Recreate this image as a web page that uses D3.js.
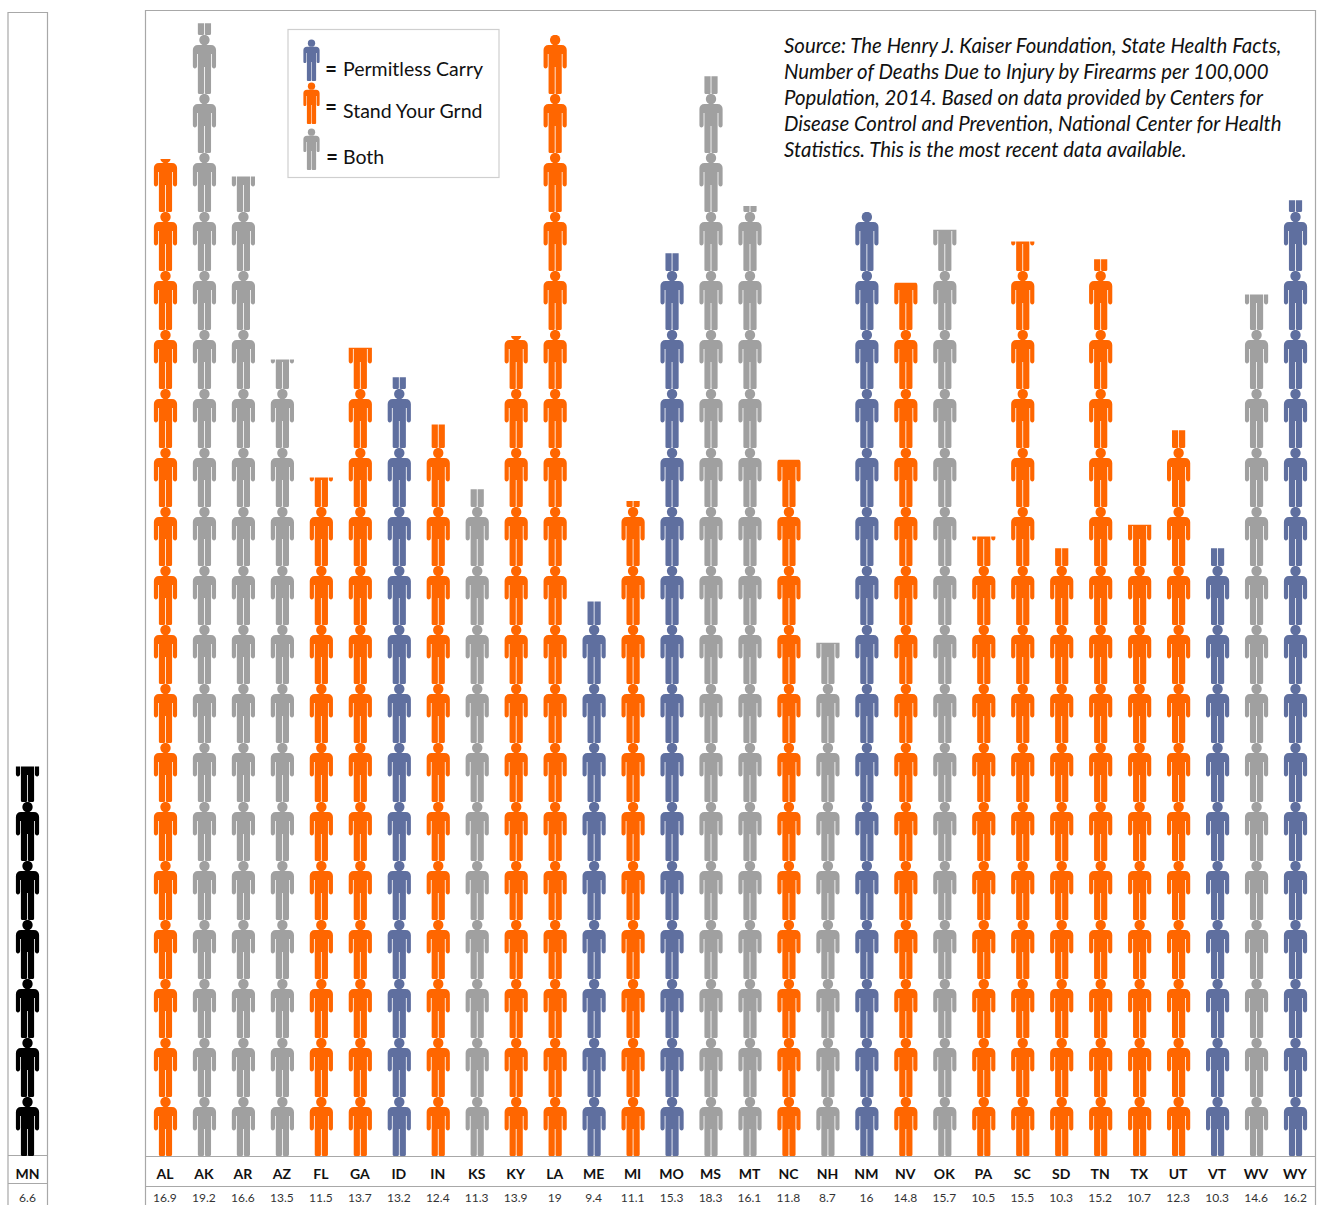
<!DOCTYPE html>
<html>
<head>
<meta charset="utf-8">
<script src="https://cdn.jsdelivr.net/npm/d3@7"></script>
<style>
html, body { margin: 0; padding: 0; background: #fff; overflow: hidden; }
svg { display: block; }
text { font-family: Lato, "Open Sans", sans-serif; fill: #111; }
</style>
</head>
<body>
<div id="chart"></div>
<script>
var states = ["AL","AK","AR","AZ","FL","GA","ID","IN","KS","KY","LA","ME","MI","MO","MS","MT","NC","NH","NM","NV","OK","PA","SC","SD","TN","TX","UT","VT","WV","WY"]
var rates = [16.9,19.2,16.6,13.5,11.5,13.7,13.2,12.4,11.3,13.9,19,9.4,11.1,15.3,18.3,16.1,11.8,8.7,16,14.8,15.7,10.5,15.5,10.3,15.2,10.7,12.3,10.3,14.6,16.2]
var laws = ["syg","both","both","both","syg","syg","permit","syg","both","syg","syg","permit","syg","permit","both","both","syg","both","permit","syg","both","syg","syg","syg","syg","syg","syg","permit","both","permit"]
var refState = ["MN"]
var refRate = [6.6]
var legendKeys = ["permit","syg","both"]
var legendLabels = ["Permitless Carry","Stand Your Grnd","Both"]
var sourceLines = [
	"Source: The Henry J. Kaiser Foundation, State Health Facts,",
	"Number of Deaths Due to Injury by Firearms per 100,000",
	"Population, 2014. Based on data provided by Centers for",
	"Disease Control and Prevention, National Center for Health",
	"Statistics. This is the most recent data available."
]

var width = 1322, height = 1205, base = 1156, unit = 59

var colour = d3.scaleOrdinal()
	.domain(["permit","syg","both","ref"])
	.range(["#5f6f9f","#ff6600","#a0a0a0","#000000"])

var x = d3.scaleBand().domain(states).range([146, 1315])
var xRef = d3.scaleBand().domain(refState).range([8, 47])
var y = d3.scaleLinear().domain([0, 1]).range([base, base - unit])

var svg = d3.select("#chart").append("svg")
	.attr("width", width)
	.attr("height", height)

// one person, 59 tall, feet at 0, centred on x = 0
var person = "M-6.5,-49 H6.5 C9.7,-49 11.6,-47 11.6,-44 V-28 C11.6,-26.4 10.8,-25.6 9.6,-25.6 C8.4,-25.6 7.4,-26.4 7.4,-28 V-40 H6.6 " +
	"V-1.6 C6.6,-0.5 5.8,0 4.6,0 H2 C1,0 0.4,-0.5 0.4,-1.6 V-27 H-0.4 V-1.6 C-0.4,-0.5 -1,0 -2,0 H-4.6 C-5.8,0 -6.6,-0.5 -6.6,-1.6 " +
	"V-40 H-7.4 V-28 C-7.4,-26.4 -8.4,-25.6 -9.6,-25.6 C-10.8,-25.6 -11.6,-26.4 -11.6,-28 V-44 C-11.6,-47 -9.7,-49 -6.5,-49 Z"

var defs = svg.append("defs")
var icon = defs.append("g").attr("id", "person")
icon.append("circle").attr("cx", 0).attr("cy", -54).attr("r", 5.2)
icon.append("path").attr("d", person)

function column(parent, key, cx, value, colourKey) {
	var id = "clip-" + key
	defs.append("clipPath").attr("id", id).append("rect")
		.attr("x", cx - 16)
		.attr("y", y(value))
		.attr("width", 32)
		.attr("height", y(0) - y(value))

	parent.append("g")
		.attr("clip-path", "url(#" + id + ")")
		.attr("fill", colour(colourKey))
		.selectAll("use")
		.data(d3.range(Math.ceil(value)))
		.enter().append("use")
		.attr("href", "#person")
		.attr("transform", function(d) { return "translate(" + cx + "," + y(d) + ")" })
}

var frame = svg.append("g").attr("fill", "none").attr("stroke", "#a8a8a8").attr("stroke-width", 1.2)
// main panel
frame.append("path").attr("d", "M145.5,1205 V10.5 H1315.5 V1205")
frame.append("line").attr("x1", 146).attr("x2", 1315).attr("y1", base + 0.5).attr("y2", base + 0.5)
frame.append("line").attr("x1", 146).attr("x2", 1315).attr("y1", 1186.5).attr("y2", 1186.5)
// reference panel
frame.append("path").attr("d", "M8,1205 V12.5 H47.5 V1205")
frame.append("line").attr("x1", 8).attr("x2", 47).attr("y1", 1155.5).attr("y2", 1155.5)
frame.append("line").attr("x1", 8).attr("x2", 47).attr("y1", 1183.5).attr("y2", 1183.5)

var bars = svg.append("g")
states.forEach(function(s, i) {
	column(bars, s, x(s) + x.bandwidth() / 2, rates[i], laws[i])
})
refState.forEach(function(s, i) {
	column(bars, s, xRef(s) + xRef.bandwidth() / 2, refRate[i], "ref")
})

svg.selectAll("text.state")
	.data(states)
	.enter().append("text")
	.attr("class", "state")
	.attr("x", function(d) { return x(d) + x.bandwidth() / 2 - 0.5 })
	.attr("y", 1179)
	.attr("text-anchor", "middle")
	.style("font-size", "14px")
	.style("font-weight", 700)
	.text(function(d) { return d })

svg.selectAll("text.rate")
	.data(rates)
	.enter().append("text")
	.attr("class", "rate")
	.attr("x", function(d, i) { return x(states[i]) + x.bandwidth() / 2 - 0.5 })
	.attr("y", 1201.5)
	.attr("text-anchor", "middle")
	.style("font-size", "12px")
	.style("fill", "#333")
	.text(function(d) { return d })

svg.append("text").attr("x", xRef("MN") + xRef.bandwidth() / 2).attr("y", 1179)
	.attr("text-anchor", "middle").style("font-size", "14px").style("font-weight", 700).text(refState[0])
svg.append("text").attr("class", "rate").attr("x", xRef("MN") + xRef.bandwidth() / 2).attr("y", 1201.5)
	.attr("text-anchor", "middle").style("font-size", "12px").style("fill", "#333").text(refRate[0])

// legend
var legend = svg.append("g")
legend.append("rect")
	.attr("x", 288).attr("y", 29.5).attr("width", 211).attr("height", 148)
	.attr("fill", "#fff").attr("stroke", "#cfcfcf").attr("stroke-width", 1.2)

var legendFeet = d3.scaleOrdinal().domain(legendKeys).range([81, 124, 170])
var legendEq = d3.scaleOrdinal().domain(legendKeys).range([70, 108, 158])
var legendText = d3.scaleOrdinal().domain(legendKeys).range([76, 118, 164])

legend.selectAll("use")
	.data(legendKeys)
	.enter().append("use")
	.attr("href", "#person")
	.attr("fill", function(d) { return colour(d) })
	.attr("transform", function(d) { return "translate(311.5," + legendFeet(d) + ") scale(0.7)" })

legend.selectAll("text.eq")
	.data(legendKeys)
	.enter().append("text")
	.attr("class", "eq")
	.attr("x", function(d, i) { return i == 2 ? 332 : 331 })
	.attr("y", function(d) { return legendEq(d) + 6 })
	.attr("text-anchor", "middle")
	.style("font-size", "20px")
	.style("font-weight", 900)
	.text("=")

legend.selectAll("text.label")
	.data(legendKeys)
	.enter().append("text")
	.attr("class", "label")
	.attr("x", 343)
	.attr("y", function(d) { return legendText(d) })
	.style("font-size", "19.5px")
	.text(function(d, i) { return legendLabels[i] })

// source note
svg.selectAll("text.source")
	.data(sourceLines)
	.enter().append("text")
	.attr("class", "source")
	.attr("x", 784)
	.attr("y", function(d, i) { return 52.5 + i * 26.1 })
	.style("font-size", "20.4px")
	.style("font-style", "italic")
	.text(function(d) { return d })
</script>
</body>
</html>
